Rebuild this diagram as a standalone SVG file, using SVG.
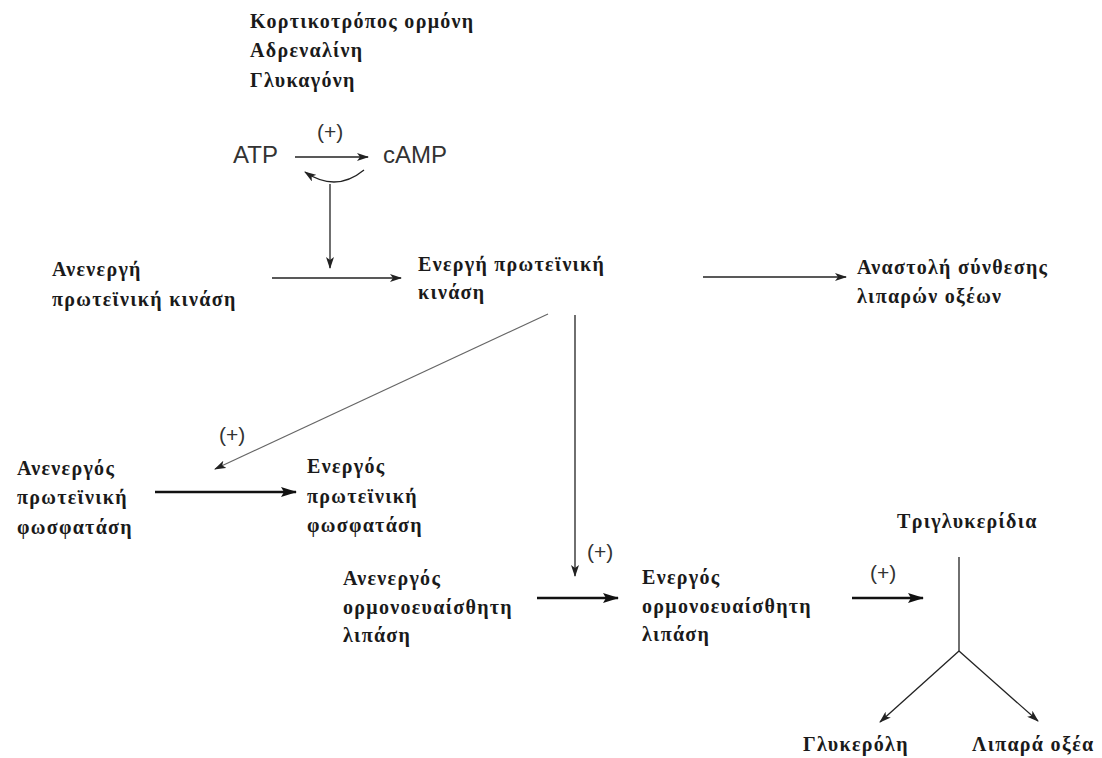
<svg xmlns="http://www.w3.org/2000/svg" width="1102" height="758" viewBox="0 0 1102 758">
<style>
.g{font-family:"Liberation Serif","DejaVu Serif",serif;font-weight:bold;font-size:20px;letter-spacing:1.3px;fill:#1a1a1a}
.s{font-family:"Liberation Sans",Arial,sans-serif;font-size:24px;fill:#333}
.p{font-family:"Liberation Sans",Arial,sans-serif;font-size:21px;fill:#333}
.l{stroke:#222;stroke-width:1.3;fill:none}
.b{stroke:#111;stroke-width:2.6;fill:none}
.d{stroke:#666;stroke-width:1.2;fill:none}
</style>
<defs>
<marker id="a" markerWidth="12" markerHeight="8" refX="11" refY="4" orient="auto" markerUnits="userSpaceOnUse">
<path d="M0,0 L12,4 L0,8 L3,4 Z" fill="#222"/>
</marker>
<marker id="ab" markerWidth="16" markerHeight="10" refX="15" refY="5" orient="auto" markerUnits="userSpaceOnUse">
<path d="M0,0 L16,5 L0,10 L3,5 Z" fill="#111"/>
</marker>
</defs>
<rect width="1102" height="758" fill="#fff"/>
<g id="hormones">
<text class="g" x="250" y="28">Κορτικοτρόπος ορμόνη</text>
<text class="g" x="250" y="57">Αδρεναλίνη</text>
<text class="g" x="250" y="87">Γλυκαγόνη</text>
</g>
<g id="atp"><text class="s" x="233" y="163">ATP</text></g>
<g id="camp"><text class="s" x="383" y="163">cAMP</text></g>
<g id="inactive-pk">
<text class="g" x="52" y="276">Ανενεργή</text>
<text class="g" x="52" y="306">πρωτεϊνική κινάση</text>
</g>
<g id="active-pk">
<text class="g" x="418" y="271">Ενεργή πρωτεϊνική</text>
<text class="g" x="418" y="299">κινάση</text>
</g>
<g id="inhibition">
<text class="g" x="857" y="274">Αναστολή σύνθεσης</text>
<text class="g" x="857" y="303">λιπαρών οξέων</text>
</g>
<g id="inactive-pp">
<text class="g" x="17" y="475">Ανενεργός</text>
<text class="g" x="17" y="504">πρωτεϊνική</text>
<text class="g" x="17" y="534">φωσφατάση</text>
</g>
<g id="active-pp">
<text class="g" x="307" y="473">Ενεργός</text>
<text class="g" x="307" y="503">πρωτεϊνική</text>
<text class="g" x="307" y="532">φωσφατάση</text>
</g>
<g id="inactive-hsl">
<text class="g" x="343" y="585">Ανενεργός</text>
<text class="g" x="343" y="614">ορμονοευαίσθητη</text>
<text class="g" x="343" y="642">λιπάση</text>
</g>
<g id="active-hsl">
<text class="g" x="642" y="584">Ενεργός</text>
<text class="g" x="642" y="613">ορμονοευαίσθητη</text>
<text class="g" x="642" y="641">λιπάση</text>
</g>
<g id="tg"><text class="g" x="897" y="528">Τριγλυκερίδια</text></g>
<g id="glycerol"><text class="g" x="803" y="751">Γλυκερόλη</text></g>
<g id="fa"><text class="g" x="972" y="751">Λιπαρά οξέα</text></g>
<g id="connectors">
<line class="l" x1="295" y1="157" x2="368" y2="157" marker-end="url(#a)"/>
<text class="p" x="317" y="139">(+)</text>
<path class="l" d="M364,170 Q336,193 305,172" marker-end="url(#a)"/>
<line class="l" x1="330" y1="184" x2="330" y2="268" marker-end="url(#a)"/>
<line class="l" x1="272" y1="278" x2="401" y2="278" marker-end="url(#a)"/>
<line class="l" x1="703" y1="277" x2="846" y2="277" marker-end="url(#a)"/>
<line class="d" x1="548" y1="314" x2="215" y2="469" marker-end="url(#a)"/>
<text class="p" x="219" y="442">(+)</text>
<line class="l" x1="575" y1="315" x2="575" y2="576" marker-end="url(#a)"/>
<text class="p" x="587" y="559">(+)</text>
<line class="b" x1="155" y1="492" x2="296" y2="492" marker-end="url(#ab)"/>
<line class="b" x1="537" y1="598" x2="618" y2="598" marker-end="url(#ab)"/>
<line class="b" x1="852" y1="598" x2="923" y2="598" marker-end="url(#ab)"/>
<text class="p" x="870" y="580">(+)</text>
<line class="l" x1="959" y1="557" x2="959" y2="651"/>
<line class="l" x1="959" y1="651" x2="880" y2="722" marker-end="url(#a)"/>
<line class="l" x1="959" y1="651" x2="1038" y2="721" marker-end="url(#a)"/>
</g>
</svg>
